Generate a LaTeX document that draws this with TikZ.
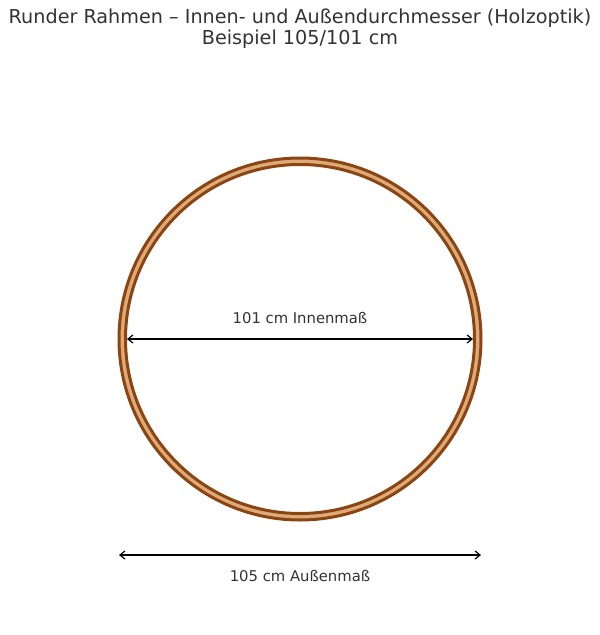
\documentclass[tikz,border=0pt]{standalone}
\usepackage{fontspec}
\setmainfont{DejaVu Sans}
\usetikzlibrary{arrows.meta}
\definecolor{holzrand}{RGB}{139,69,19}
\definecolor{holzfuell}{RGB}{222,170,120}
\definecolor{schrift}{RGB}{51,51,51}
\tikzset{>={Straight Barb[length=5pt,width=8pt]}}
\tikzset{masspfeil/.style={<->, line width=1.2pt, black},
  beschriftung/.style={text=schrift, font=\fontsize{14.8}{17}\selectfont, inner sep=0pt}}

\begin{document}
\begin{tikzpicture}[x=1pt, y=-1pt]
    \useasboundingbox (0,0) rectangle (600,635);
    % Titel
    \node[text=schrift, align=center, font=\fontsize{19.2}{21}\selectfont] (titel) at (300,29) {Runder Rahmen – Innen- und Außendurchmesser (Holzoptik)\\Beispiel 105/101 cm};
    % Rahmen
    \fill[holzfuell, even odd rule] (300,339) circle (181) (300,339) circle (174.5);
    \draw[holzrand, line width=3pt] (300,339) circle (181);
    \draw[holzrand, line width=3pt] (300,339) circle (174.5);
    % Innenmass
    \coordinate (innenL) at (127,339);
    \coordinate (innenR) at (473,339);
    \draw[masspfeil] (innenL) -- (innenR);
    \node[beschriftung] (innen) at (300,318) {101 cm Innenmaß};
    % Aussenmass
    \coordinate (aussenL) at (119,555);
    \coordinate (aussenR) at (481,555);
    \draw[masspfeil] (aussenL) -- (aussenR);
    \node[beschriftung] (aussen) at (300,576) {105 cm Außenmaß};
\end{tikzpicture}
\end{document}
